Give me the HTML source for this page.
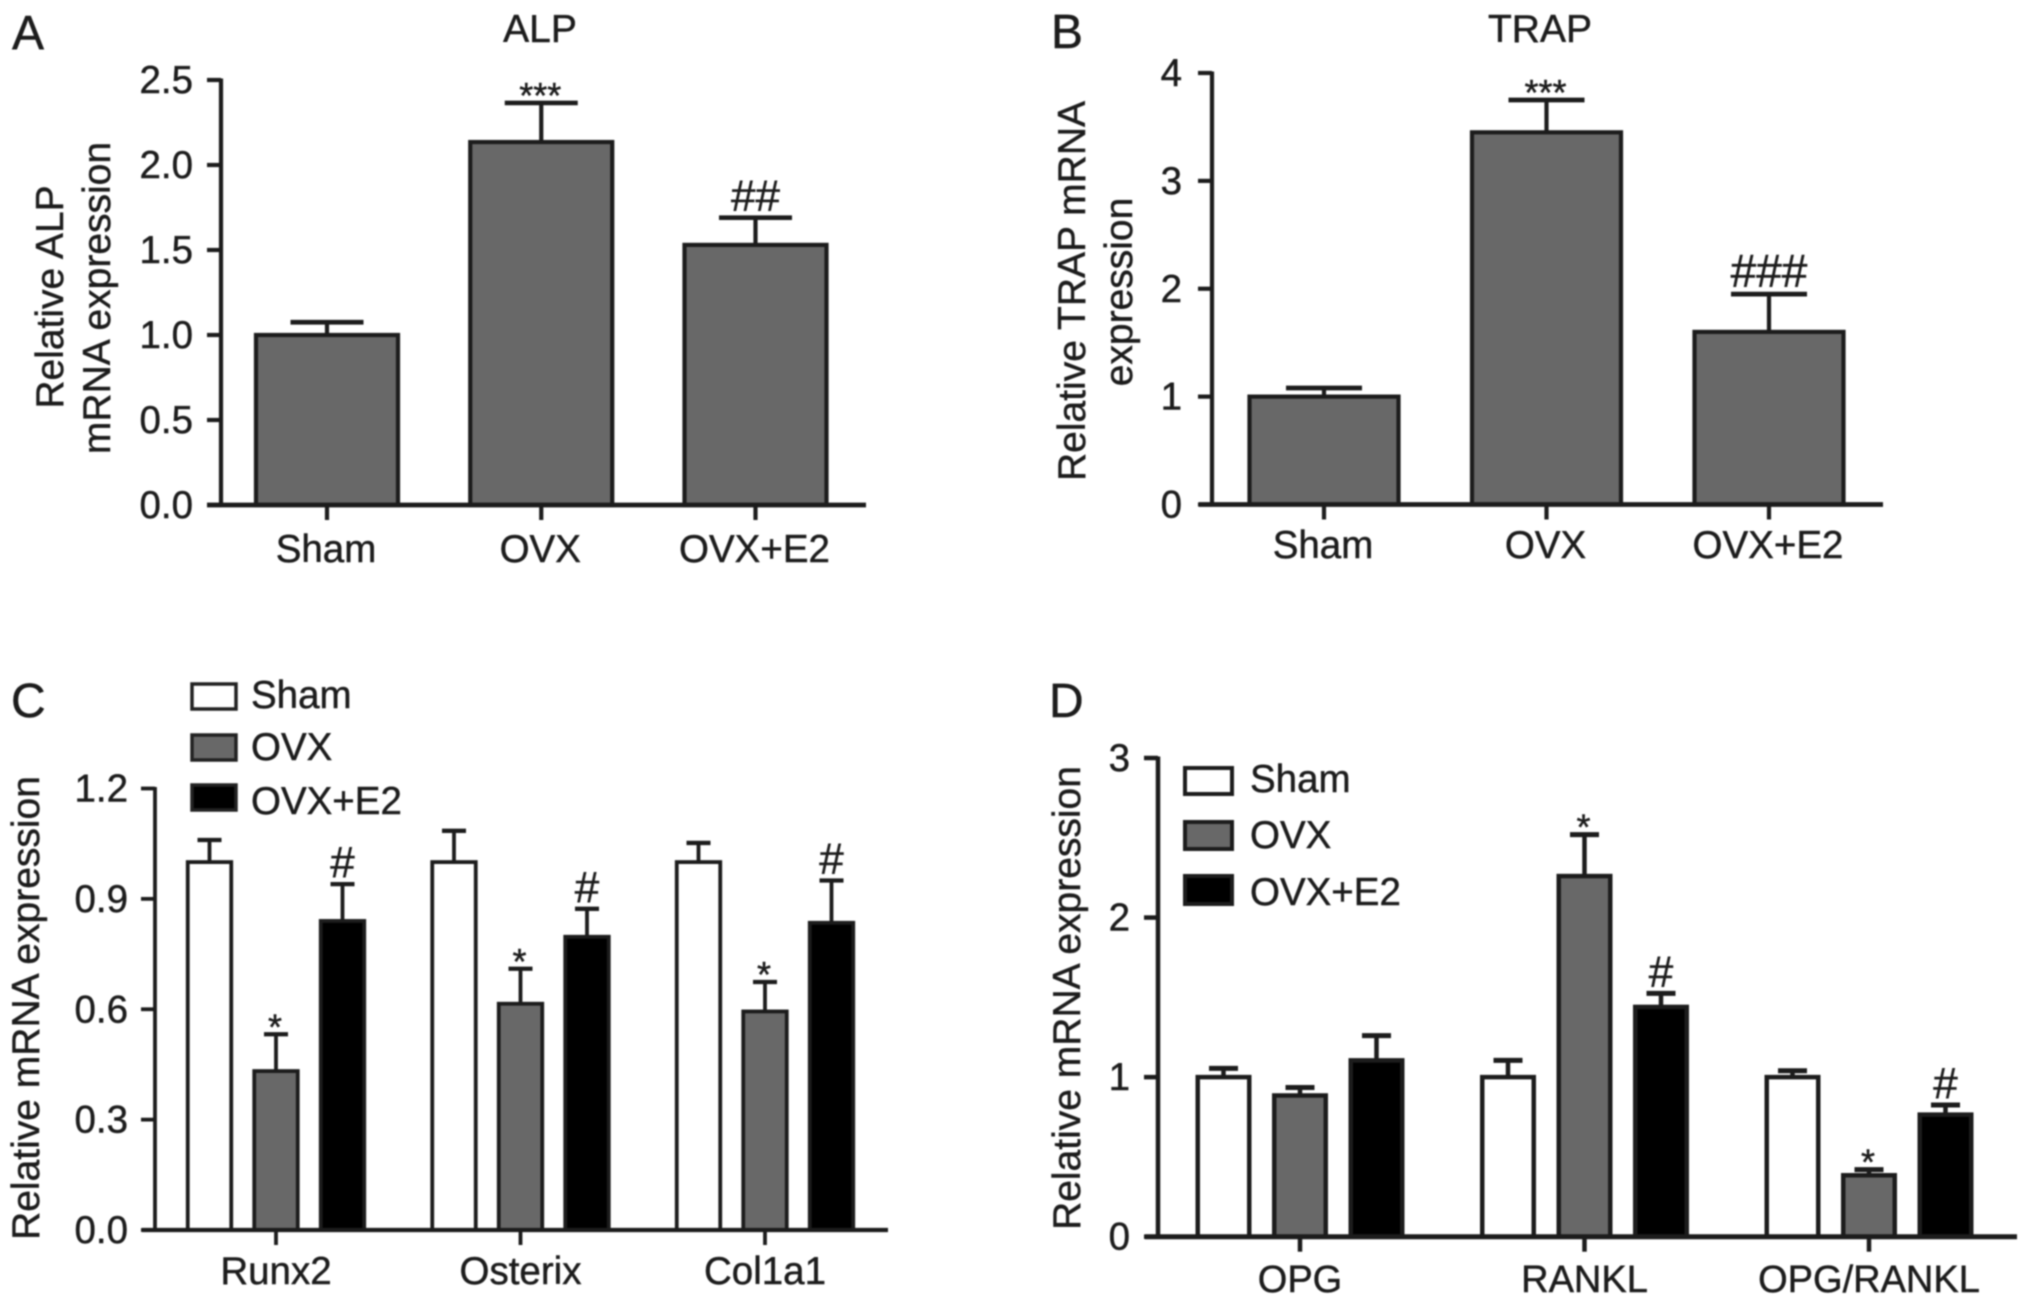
<!DOCTYPE html>
<html lang="en">
<head>
<meta charset="utf-8">
<title>Relative mRNA expression panels</title>
<style>
  html, body { margin: 0; padding: 0; background: #fff; }
  #figure { display: block; width: 2031px; height: 1305px; filter: blur(0.7px); }
  text { font-family: "Liberation Sans", sans-serif; fill: #1c1c1c; stroke: #1c1c1c; stroke-width: 0.45px; font-size: 38.5px; }
  .letter { font-size: 48px; }
  .title { font-size: 39px; text-anchor: middle; }
  .y-title { font-size: 39px; text-anchor: middle; }
  .legend-text { font-size: 38.5px; }
</style>
</head>
<body>
<svg id="figure" xmlns="http://www.w3.org/2000/svg" width="2031" height="1305" viewBox="0 0 2031 1305">
  <rect x="0" y="0" width="2031" height="1305" fill="#ffffff"/>

  <text class="letter" x="12" y="49">A</text>
  <text class="letter" x="1051" y="48">B</text>
  <text class="letter" x="11" y="717">C</text>
  <text class="letter" x="1049" y="717">D</text>

  <text class="title" x="540" y="42">ALP</text>
  <text class="title" x="1540" y="42">TRAP</text>

  <text class="y-title" transform="translate(63,297) rotate(-90)">Relative ALP</text>
  <text class="y-title" transform="translate(110,298) rotate(-90)">mRNA expression</text>
  <text class="y-title" transform="translate(1085,291) rotate(-90)">Relative TRAP mRNA</text>
  <text class="y-title" transform="translate(1132,292) rotate(-90)">expression</text>
  <text class="y-title" transform="translate(39,1008) rotate(-90)">Relative mRNA expression</text>
  <text class="y-title" transform="translate(1080,998) rotate(-90)">Relative mRNA expression</text>

  <g>
    <rect x="192" y="684" width="44" height="25" fill="#ffffff" stroke="#222" stroke-width="3.5"/>
    <text class="legend-text" x="251" y="708">Sham</text>
    <rect x="192" y="735" width="44" height="25" fill="#686868" stroke="#222" stroke-width="3.5"/>
    <text class="legend-text" x="251" y="760">OVX</text>
    <rect x="192" y="785" width="44" height="25" fill="#000000" stroke="#222" stroke-width="3.5"/>
    <text class="legend-text" x="251" y="814">OVX+E2</text>
  </g>

  <g>
    <rect x="1185" y="768" width="47" height="26" fill="#ffffff" stroke="#1c1c1c" stroke-width="4"/>
    <text class="legend-text" x="1250" y="792">Sham</text>
    <rect x="1185" y="822" width="47" height="27" fill="#686868" stroke="#1c1c1c" stroke-width="4"/>
    <text class="legend-text" x="1250" y="848">OVX</text>
    <rect x="1185" y="876" width="47" height="28" fill="#000000" stroke="#1c1c1c" stroke-width="4"/>
    <text class="legend-text" x="1250" y="905">OVX+E2</text>
  </g>
</svg>

<script>
// Panel A: ALP
const alpCategories = ['Sham', 'OVX', 'OVX+E2'];
const alpValues = [1.0, 2.135, 1.53];
const alpErrorTops = [1.075, 2.365, 1.69];
const alpMarks = ['', '***', '##'];
const alpTicks = ['0.0', '0.5', '1.0', '1.5', '2.0', '2.5'];

// Panel B: TRAP
const trapCategories = ['Sham', 'OVX', 'OVX+E2'];
const trapValues = [1.0, 3.45, 1.6];
const trapErrorTops = [1.08, 3.75, 1.95];
const trapMarks = ['', '***', '###'];
const trapTicks = ['0', '1', '2', '3', '4'];

// Panel C: osteoblast markers
const boneCategories = ['Runx2', 'Osterix', 'Col1a1'];
const boneSham = [1.0, 1.0, 1.0];
const boneShamErrorTops = [1.06, 1.085, 1.052];
const boneShamMarks = ['', '', ''];
const boneOvx = [0.432, 0.615, 0.594];
const boneOvxErrorTops = [0.532, 0.71, 0.674];
const boneOvxMarks = ['*', '*', '*'];
const boneE2 = [0.84, 0.797, 0.835];
const boneE2ErrorTops = [0.94, 0.873, 0.95];
const boneE2Marks = ['#', '#', '#'];
const boneTicks = ['0.0', '0.3', '0.6', '0.9', '1.2'];

// Panel D: OPG / RANKL
const opgCategories = ['OPG', 'RANKL', 'OPG/RANKL'];
const opgSham = [1.0, 1.0, 1.0];
const opgShamErrorTops = [1.055, 1.105, 1.04];
const opgShamMarks = ['', '', ''];
const opgOvx = [0.885, 2.26, 0.385];
const opgOvxErrorTops = [0.935, 2.52, 0.42];
const opgOvxMarks = ['', '*', '*'];
const opgE2 = [1.105, 1.44, 0.765];
const opgE2ErrorTops = [1.26, 1.525, 0.825];
const opgE2Marks = ['', '#', '#'];
const opgTicks = ['0', '1', '2', '3'];

const seriesFills = { sham: '#ffffff', ovx: '#686868', e2: '#000000', single: '#686868' };

const figure = document.getElementById('figure');
const SVG_NS = 'http://www.w3.org/2000/svg';

function make(parent, tag, attrs, text) {
  const el = document.createElementNS(SVG_NS, tag);
  for (const key in attrs) el.setAttribute(key, attrs[key]);
  if (text !== undefined) el.textContent = text;
  parent.appendChild(el);
  return el;
}

function linearScale(domainMin, domainMax, pixelMin, pixelMax) {
  return function (v) {
    return pixelMin + (v - domainMin) / (domainMax - domainMin) * (pixelMax - pixelMin);
  };
}

function drawBar(group, p, series, cx, value, errorTop, mark, key) {
  const yScale = p.yScale;
  const w = p.barWidth;
  const errorLine = make(group, 'line', {
    x1: cx, x2: cx, y1: yScale(value), y2: yScale(errorTop),
    stroke: '#1c1c1c', 'stroke-width': p.stroke
  });
  
  

  const errorCap = make(group, 'line', {
    x1: cx - p.capWidth / 2, x2: cx + p.capWidth / 2, y1: yScale(errorTop), y2: yScale(errorTop),
    stroke: '#1c1c1c', 'stroke-width': p.stroke + 0.5
  });
  
  

  const bar = make(group, 'rect', {
    x: cx - w / 2, y: yScale(value), width: w, height: yScale(0) - yScale(value),
    fill: seriesFills[series], stroke: '#1c1c1c', 'stroke-width': p.stroke
  });
  
  

  if (mark) {
    const isStar = mark.charAt(0) === '*';
    const baseline = yScale(errorTop) + (isStar ? 5 : -7);
    const markSize = isStar ? 36 : (mark.length === 3 ? 46 : 44);
    const markText = make(group, 'text', {
      x: isStar ? cx - 1 : cx, y: baseline, 'text-anchor': 'middle',
      style: 'font-size:' + markSize + 'px'
    }, mark);
    
    
  }
}

function drawAxes(group, p, tickLabels, categories) {
  const yScale = p.yScale;
  const yTop = yScale(Number(tickLabels[tickLabels.length - 1]));
  const yBase = yScale(0);

  const yAxis = make(group, 'line', {
    x1: p.axisX, x2: p.axisX, y1: yTop - 1.5, y2: yBase,
    stroke: '#1c1c1c', 'stroke-width': p.stroke
  });
  
  

  const xAxis = make(group, 'line', {
    x1: p.xAxisStart, x2: p.xAxisEnd, y1: yBase, y2: yBase,
    stroke: '#1c1c1c', 'stroke-width': p.stroke + 0.5
  });
  
  

  tickLabels.forEach(function (label) {
    const y = yScale(Number(label));
    const tick = make(group, 'line', {
      x1: p.axisX - 14, x2: p.axisX, y1: y, y2: y,
      stroke: '#1c1c1c', 'stroke-width': p.stroke
    });
    
    

    const tickText = make(group, 'text', {
      x: p.tickRight, y: y + 13, 'text-anchor': 'end'
    }, label);
    
    
  });

  categories.forEach(function (name, i) {
    const x = p.xScale(i);
    const tick = make(group, 'line', {
      x1: x, x2: x, y1: yBase, y2: yBase + 15,
      stroke: '#1c1c1c', 'stroke-width': p.stroke
    });
    
    

    const catText = make(group, 'text', {
      x: x + p.labelShift, y: p.labelBaseline, 'text-anchor': 'middle',
      style: 'font-size:' + p.labelSize + 'px'
    }, name);
    
    
  });
}

function panelGroup(id) {
  const g = make(figure, 'g', {});
  
  
  return g;
}

function drawSinglePanel(p, categories, values, errorTops, marks, ticks) {
  const g = panelGroup(p.id);
  categories.forEach(function (name, i) {
    drawBar(g, p, 'single', p.xScale(i), values[i], errorTops[i], marks[i], name);
  });
  drawAxes(g, p, ticks, categories);
}

function drawGroupedPanel(p, categories, seriesList, ticks) {
  const g = panelGroup(p.id);
  categories.forEach(function (name, i) {
    seriesList.forEach(function (s, j) {
      const cx = p.xScale(i) + (j - 1) * p.barStep;
      drawBar(g, p, s.key, cx, s.values[i], s.errors[i], s.marks[i], name + '-' + s.key);
    });
  });
  drawAxes(g, p, ticks, categories);
}

drawSinglePanel({
  id: 'panel-a',
  yScale: linearScale(0, 2.5, 505, 80),
  xScale: linearScale(0, 2, 327, 755.5),
  barWidth: 142, capWidth: 73, stroke: 4.2,
  axisX: 221, xAxisStart: 207, xAxisEnd: 866,
  tickRight: 193, labelBaseline: 562, labelShift: -1, labelSize: 38.5
}, alpCategories, alpValues, alpErrorTops, alpMarks, alpTicks);

drawSinglePanel({
  id: 'panel-b',
  yScale: linearScale(0, 4, 504.5, 73),
  xScale: linearScale(0, 2, 1324, 1769),
  barWidth: 149, capWidth: 76, stroke: 4.2,
  axisX: 1212, xAxisStart: 1199, xAxisEnd: 1883,
  tickRight: 1182, labelBaseline: 558, labelShift: -1, labelSize: 38.5
}, trapCategories, trapValues, trapErrorTops, trapMarks, trapTicks);

drawGroupedPanel({
  id: 'panel-c',
  yScale: linearScale(0, 1.2, 1230, 788.5),
  xScale: linearScale(0, 2, 276, 765),
  barWidth: 43.5, barStep: 66.5, capWidth: 24, stroke: 3.8,
  axisX: 155, xAxisStart: 142, xAxisEnd: 888,
  tickRight: 128, labelBaseline: 1284, labelShift: 0, labelSize: 38.5
}, boneCategories, [
  { key: 'sham', values: boneSham, errors: boneShamErrorTops, marks: boneShamMarks },
  { key: 'ovx', values: boneOvx, errors: boneOvxErrorTops, marks: boneOvxMarks },
  { key: 'e2', values: boneE2, errors: boneE2ErrorTops, marks: boneE2Marks }
], boneTicks);

drawGroupedPanel({
  id: 'panel-d',
  yScale: linearScale(0, 3, 1236.7, 758),
  xScale: linearScale(0, 2, 1300, 1869),
  barWidth: 51.5, barStep: 76.5, capWidth: 29, stroke: 4.5,
  axisX: 1158, xAxisStart: 1145, xAxisEnd: 2017,
  tickRight: 1130, labelBaseline: 1292, labelShift: 0, labelSize: 38
}, opgCategories, [
  { key: 'sham', values: opgSham, errors: opgShamErrorTops, marks: opgShamMarks },
  { key: 'ovx', values: opgOvx, errors: opgOvxErrorTops, marks: opgOvxMarks },
  { key: 'e2', values: opgE2, errors: opgE2ErrorTops, marks: opgE2Marks }
], opgTicks);
</script>
</body>
</html>
